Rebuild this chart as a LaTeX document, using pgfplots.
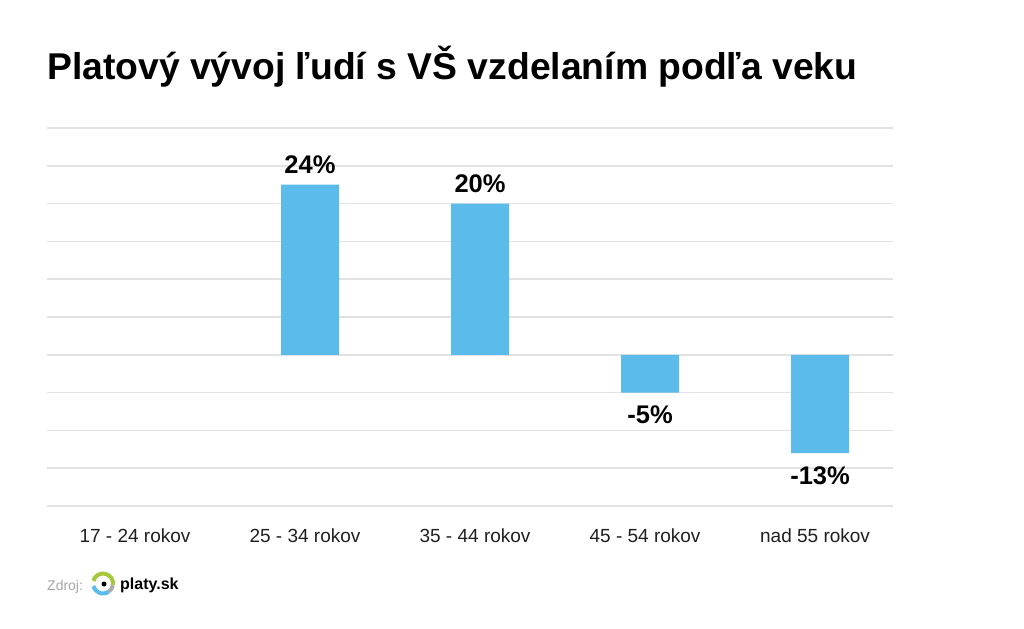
\documentclass[border=0pt]{standalone}
\usepackage{pgfplots}
\pgfplotsset{compat=1.18}
\usepackage{fontspec}
\setmainfont{Liberation Sans}
\definecolor{barblue}{RGB}{91,187,234}
\definecolor{gridgray}{RGB}{226,226,226}
\definecolor{logogreen}{RGB}{166,201,60}
\definecolor{logogray}{RGB}{170,170,170}
\definecolor{zdrojgray}{RGB}{165,165,165}
\begin{document}
\begin{tikzpicture}
\path[use as bounding box] (-47bp,-123bp) rectangle (977bp,506bp);
\begin{axis}[at={(0bp,0bp)}, anchor=south west, width=846bp, height=378bp, scale only axis,
 xmin=-0.547, xmax=4.429, ymin=-20, ymax=30,
 ytick={-20,-15,...,30}, yticklabels={}, ymajorgrids, grid style={gridgray, line width=1.5bp},
 xtick={0,1,2,3,4}, xticklabels={17 - 24 rokov, 25 - 34 rokov, 35 - 44 rokov, 45 - 54 rokov, nad 55 rokov},
 xticklabel style={font=\fontsize{19bp}{22bp}\selectfont, anchor=base, yshift=-36bp, xshift=-5bp, text=black!88},
 axis line style={draw=none}, major tick length=0pt, tick style={draw=none},
 ybar, bar width=58bp,
 nodes near coords, point meta=explicit symbolic,
 every node near coord/.append style={font=\fontsize{25.5bp}{28bp}\selectfont\bfseries, inner xsep=0pt, text=black},
 clip=false,
]
% positive values (bar drawn as in the reference; label as printed there)
\addplot[fill=barblue, draw=none, bar shift=0pt,
  every node near coord/.append style={anchor=south, inner ysep=11bp}]
  coordinates {(1,22.5) [24\%] (2,20) [20\%]};
% negative values
\addplot[fill=barblue, draw=none, bar shift=0pt,
  every node near coord/.append style={anchor=north, inner ysep=13bp}]
  coordinates {(3,-5) [-5\%] (4,-13) [-13\%]};
\end{axis}
\node[anchor=base west, inner sep=0pt, font=\fontsize{37.3bp}{40bp}\selectfont\bfseries] at (0bp,426bp) {Platový vývoj ľudí s VŠ vzdelaním podľa veku};
\node[anchor=base west, inner sep=0pt, font=\fontsize{14bp}{16bp}\selectfont, text=zdrojgray] at (0bp,-84bp) {Zdroj:};
\draw[logogreen, line width=4bp] ([shift={(165:10bp)}]56bp,-77.5bp) arc[start angle=165, end angle=-10, radius=10bp];
\draw[logogray, line width=4bp] ([shift={(-10:10bp)}]56bp,-77.5bp) arc[start angle=-10, end angle=-55, radius=10bp];
\draw[barblue, line width=4bp] ([shift={(-55:10bp)}]56bp,-77.5bp) arc[start angle=-55, end angle=-165, radius=10bp];
\fill (57bp,-78bp) circle (2.5bp);
\node[anchor=base west, inner sep=0pt, font=\fontsize{16bp}{18bp}\selectfont\bfseries] at (73bp,-83bp) {platy.sk};
\end{tikzpicture}
\end{document}
